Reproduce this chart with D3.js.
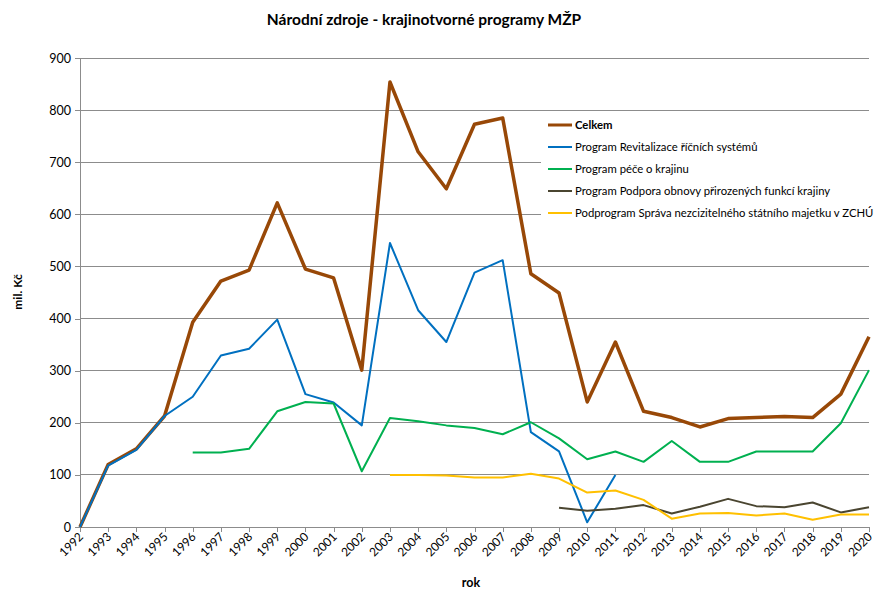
<!DOCTYPE html>
<meta charset="utf-8">
<style>
body { margin: 0; background: #fff; font-family: Lato, "Open Sans", sans-serif; }
.grid line { stroke: #8c8c8c; stroke-width: 1px; shape-rendering: crispEdges; }
.axis path, .axis line { stroke: #8c8c8c; shape-rendering: crispEdges; }
.axis text { font-size: 12.5px; fill: #000; font-family: Lato, sans-serif; }
.axis.x text { font-size: 12px; }
.line { fill: none; stroke-linejoin: round; }
.legend text { font-size: 11.3px; font-family: Lato, sans-serif; }
</style>
<body>
<script src="https://cdn.jsdelivr.net/npm/d3@7"></script>
<script>

var years = d3.range(1992, 2021);

var celkem = [0, 120, 150, 213, 393, 472, 493, 622, 495, 478, 301, 854, 720, 649, 773, 785,
  486, 449, 240, 355, 222, 210, 192, 208, 210, 212, 210, 255, 365];
var revitalizace = [0, 118, 148, 213, 250, 329, 342, 398, 255, 239, 195, 545, 416, 355, 488, 512,
  182, 145, 9, 100];
var pece = [null, null, null, null, 143, 143, 150, 222, 240, 237, 107, 209, 203, 195, 190, 178,
  201, 170, 130, 145, 125, 165, 125, 125, 145, 145, 145, 199, 301];
var podpora = [null, null, null, null, null, null, null, null, null, null, null, null, null, null, null, null,
  null, 37, 31, 35, 42, 26, 39, 54, 40, 38, 47, 28, 38];
var sprava = [null, null, null, null, null, null, null, null, null, null, null, 100, 100, 99, 95, 95,
  102, 93, 66, 70, 52, 16, 26, 27, 22, 26, 14, 24, 24];

var yTicks = d3.range(0, 1000, 100);

var series = [
  {name: "Celkem", values: celkem, color: "#984807", width: 3.5, bold: true},
  {name: "Program Revitalizace říčních systémů", values: revitalizace, color: "#0070C0", width: 2},
  {name: "Program péče o krajinu", values: pece, color: "#00B050", width: 2},
  {name: "Program Podpora obnovy přirozených funkcí krajiny", values: podpora, color: "#4A4530", width: 2},
  {name: "Podprogram Správa nezcizitelného státního majetku v ZCHÚ", values: sprava, color: "#FFC000", width: 2}
];

var margin = {top: 58, right: 6, bottom: 63, left: 80},
    width = 875 - margin.left - margin.right,
    height = 590 - margin.top - margin.bottom;

var svg = d3.select("body").append("svg")
    .attr("width", 875)
    .attr("height", 590);

var g = svg.append("g")
    .attr("transform", "translate(" + margin.left + "," + margin.top + ")");

var x = d3.scaleLinear().domain([1992, 2020]).range([0, width]);
var y = d3.scaleLinear().domain([0, 900]).range([height, 0]);

// gridlines
g.append("g").attr("class", "grid")
  .selectAll("line")
  .data(yTicks.slice(1))
  .enter().append("line")
    .attr("x1", 0).attr("x2", width)
    .attr("y1", function(d) { return y(d); })
    .attr("y2", function(d) { return y(d); });

g.append("g")
    .attr("class", "axis")
    .call(d3.axisLeft(y).tickValues(yTicks).tickSize(5).tickPadding(4).tickSizeOuter(0));

g.append("g")
    .attr("class", "axis x")
    .attr("transform", "translate(0," + height + ")")
    .call(d3.axisBottom(x).tickValues(years).tickFormat(d3.format("d")).tickSize(5).tickSizeOuter(0))
  .selectAll("text")
    .attr("text-anchor", "end")
    .attr("dx", "-5")
    .attr("dy", "2")
    .attr("transform", "rotate(-45)");

var line = d3.line()
    .defined(function(d) { return d != null; })
    .x(function(d, i) { return x(years[i]); })
    .y(function(d) { return y(d); });

g.selectAll(".line")
  .data(series)
  .enter().append("path")
    .attr("class", "line")
    .attr("stroke", function(d) { return d.color; })
    .attr("stroke-width", function(d) { return d.width; })
    .attr("d", function(d) { return line(d.values); });

// legend
var lg = svg.append("g").attr("class", "legend").attr("transform", "translate(541,112)");
lg.append("rect").attr("width", 334).attr("height", 116).attr("fill", "#fff");
var item = lg.selectAll(".item")
  .data(series)
  .enter().append("g")
    .attr("transform", function(d, i) { return "translate(7," + (13 + i * 22) + ")"; });
item.append("line")
    .attr("x1", 0).attr("x2", 24)
    .attr("stroke", function(d) { return d.color; })
    .attr("stroke-width", function(d) { return d.bold ? 3 : 2; });
item.append("text")
    .attr("x", 27).attr("dy", "0.35em")
    .attr("font-weight", function(d) { return d.bold ? "bold" : "normal"; })
    .text(function(d) { return d.name; });

// titles
svg.append("text")
    .attr("x", 424).attr("y", 25)
    .attr("text-anchor", "middle")
    .attr("font-size", "15.5px").attr("font-weight", "bold")
    .text("Národní zdroje - krajinotvorné programy MŽP");

svg.append("text")
    .attr("transform", "translate(22,292) rotate(-90)")
    .attr("text-anchor", "middle")
    .attr("font-size", "12px").attr("font-weight", "bold")
    .text("mil. Kč");

svg.append("text")
    .attr("x", 471).attr("y", 587)
    .attr("text-anchor", "middle")
    .attr("font-size", "12.5px").attr("font-weight", "bold")
    .text("rok");

</script>
</body>
